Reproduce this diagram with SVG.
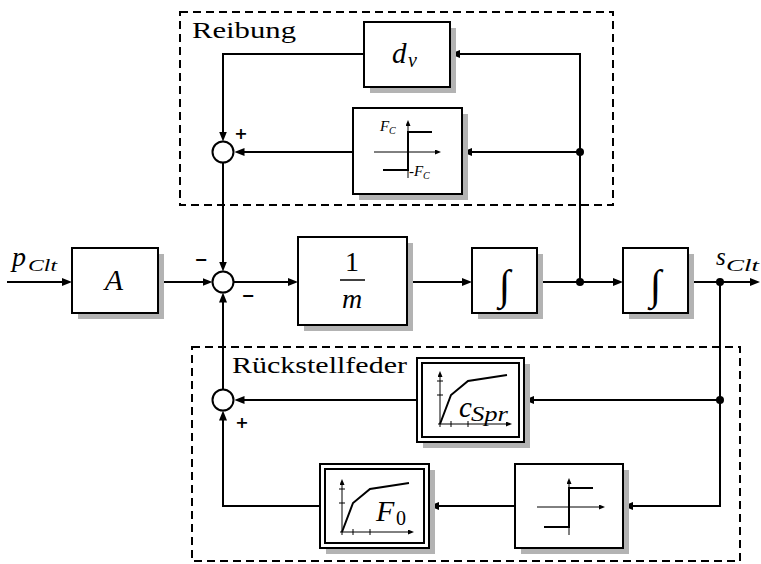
<svg xmlns="http://www.w3.org/2000/svg" xmlns:xlink="http://www.w3.org/1999/xlink" width="761" height="564" viewBox="0 0 761 564">
<style>
.box{fill:#fff;stroke:#000;stroke-width:2}
.sh{fill:#b3b3b3}
.wire{fill:none;stroke:#000;stroke-width:2}
.thin{fill:none;stroke:#000;stroke-width:1}
.thick{fill:none;stroke:#000;stroke-width:2}
.grp{fill:none;stroke:#000;stroke-width:2;stroke-dasharray:8 5}
.mi{font-family:"Liberation Serif","DejaVu Serif",serif;font-style:italic}
.rm{font-family:"Liberation Serif","DejaVu Serif",serif}
.sign{font-family:"DejaVu Sans",sans-serif;font-weight:bold;font-size:16px;text-anchor:middle}
.sum{fill:#fff;stroke:#000;stroke-width:2}
</style>
<defs>
<marker id="arr" markerUnits="userSpaceOnUse" markerWidth="10" markerHeight="8" refX="7" refY="4" orient="auto"><path d="M0,0 L10,4 L0,8 z" fill="#000"/></marker>
<marker id="arrs" markerUnits="userSpaceOnUse" markerWidth="6" markerHeight="5" refX="3" refY="2.5" orient="auto"><path d="M0,0 L6,2.5 L0,5 z" fill="#000"/></marker>
<g id="curveIcon">
<path class="thin" d="M0,3 V-50" marker-end="url(#arrs)"/>
<path class="thin" d="M-2,0 H69" marker-end="url(#arrs)"/>
<path class="thin" d="M11,-3 V3 M28,-3 V3 M-3,-29 H3 M-3,-43 H3"/>
<path class="thick" d="M0,0 L11,-29 L28,-43 L67,-49"/>
</g>
</defs>

<g id="groups">
<rect class="grp" x="180" y="12" width="433" height="193"/>
<text class="rm" x="192" y="38" font-size="24" textLength="104" lengthAdjust="spacingAndGlyphs">Reibung</text>
<rect class="grp" x="192" y="347" width="548" height="214"/>
<text class="rm" x="232" y="373" font-size="24" textLength="175" lengthAdjust="spacingAndGlyphs">Rückstellfeder</text>
</g>

<g id="connectors">
<path class="wire" d="M7,282 H69" marker-end="url(#arr)"/>
<path class="wire" d="M158,282 H209.5" marker-end="url(#arr)"/>
<path class="wire" d="M233.5,282 H295" marker-end="url(#arr)"/>
<path class="wire" d="M407,282 H469" marker-end="url(#arr)"/>
<path class="wire" d="M537,282 H620" marker-end="url(#arr)"/>
<path class="wire" d="M688,282 H757" marker-end="url(#arr)"/>
<path class="wire" d="M580,282 V54 H453" marker-end="url(#arr)"/>
<path class="wire" d="M580,152 H465" marker-end="url(#arr)"/>
<path class="wire" d="M364,54 H223 V138.5" marker-end="url(#arr)"/>
<path class="wire" d="M353,152 H237.5" marker-end="url(#arr)"/>
<path class="wire" d="M223,162.5 V268.5" marker-end="url(#arr)"/>
<path class="wire" d="M720,282 V506 H626" marker-end="url(#arr)"/>
<path class="wire" d="M720,400 H527" marker-end="url(#arr)"/>
<path class="wire" d="M417,400 H237.5" marker-end="url(#arr)"/>
<path class="wire" d="M515,506 H432" marker-end="url(#arr)"/>
<path class="wire" d="M320,506 H223 V413.5" marker-end="url(#arr)"/>
<path class="wire" d="M223,389.5 V295.5" marker-end="url(#arr)"/>
<circle cx="580" cy="282" r="4"/>
<circle cx="580" cy="152" r="4"/>
<circle cx="720" cy="282" r="4"/>
<circle cx="720" cy="400" r="4"/>
<text class="mi" x="12" y="266" font-size="28">p</text>
<text class="mi" x="28" y="271" font-size="17" textLength="29" lengthAdjust="spacingAndGlyphs">Clt</text>
<text class="mi" x="716" y="265" font-size="25">s</text>
<text class="mi" x="726" y="271" font-size="17" textLength="33" lengthAdjust="spacingAndGlyphs">Clt</text>
</g>

<g id="sum_top">
<circle class="sum" cx="223" cy="152" r="10.5"/>
<text class="sign" x="241" y="139">+</text>
</g>
<g id="sum_mid">
<circle class="sum" cx="223" cy="282" r="10.5"/>
<text class="sign" x="201" y="265">−</text>
<text class="sign" x="248" y="301">−</text>
</g>
<g id="sum_bot">
<circle class="sum" cx="223" cy="400" r="10.5"/>
<text class="sign" x="242" y="428">+</text>
</g>

<g id="block_A">
<rect class="sh" x="78" y="254" width="86" height="65"/>
<rect class="box" x="72" y="248" width="86" height="65"/>
<text class="mi" x="114" y="290" font-size="30" text-anchor="middle">A</text>
</g>

<g id="block_1m">
<rect class="sh" x="304" y="243" width="109" height="88"/>
<rect class="box" x="298" y="237" width="109" height="88"/>
<text class="rm" x="352" y="271" font-size="28" text-anchor="middle">1</text>
<line x1="340" y1="280" x2="365" y2="280" stroke="#000" stroke-width="1.5"/>
<text class="mi" x="352" y="308" font-size="28" text-anchor="middle">m</text>
</g>

<g id="block_int1">
<rect class="sh" x="478" y="254" width="65" height="65"/>
<rect class="box" x="472" y="248" width="65" height="65"/>
<text class="rm" x="504.5" y="299" font-size="42" text-anchor="middle">∫</text>
</g>

<g id="block_int2">
<rect class="sh" x="629" y="254" width="65" height="65"/>
<rect class="box" x="623" y="248" width="65" height="65"/>
<text class="rm" x="655.5" y="299" font-size="42" text-anchor="middle">∫</text>
</g>

<g id="block_dv">
<rect class="sh" x="370" y="28" width="86" height="65"/>
<rect class="box" x="364" y="22" width="86" height="65"/>
<text class="mi" x="392" y="63" font-size="29">d</text>
<text class="mi" x="408" y="67" font-size="20">v</text>
</g>

<g id="block_FC">
<rect class="sh" x="359" y="114" width="109" height="86"/>
<rect class="box" x="353" y="108" width="109" height="86"/>
<path class="thin" d="M374,152 H438" marker-end="url(#arrs)"/>
<path class="thin" d="M408,178 V123" marker-end="url(#arrs)"/>
<path class="thick" d="M383,170 H408 V132 H432"/>
<text class="mi" x="380" y="131" font-size="15">F</text>
<text class="mi" x="389" y="134" font-size="10">C</text>
<text class="rm" x="409" y="176" font-size="15">-</text>
<text class="mi" x="414" y="176" font-size="15">F</text>
<text class="mi" x="423" y="179" font-size="10">C</text>
</g>

<g id="block_cSpr">
<rect class="sh" x="423" y="364" width="107" height="84"/>
<rect class="box" x="417" y="358" width="107" height="84" stroke-width="2.5"/>
<rect class="box" x="422" y="363" width="97" height="74"/>
<use xlink:href="#curveIcon" x="440" y="424"/>
<text class="mi" x="459" y="417" font-size="29">c</text>
<text class="mi" x="471" y="421" font-size="20" textLength="37" lengthAdjust="spacingAndGlyphs">Spr</text>
</g>

<g id="block_F0">
<rect class="sh" x="326" y="470" width="109" height="84"/>
<rect class="box" x="320" y="464" width="109" height="84" stroke-width="2.5"/>
<rect class="box" x="325" y="469" width="99" height="74"/>
<use xlink:href="#curveIcon" x="342" y="532"/>
<text class="mi" x="376" y="521" font-size="30">F</text>
<text class="rm" x="396" y="525" font-size="20">0</text>
</g>

<g id="block_switch">
<rect class="sh" x="521" y="470" width="108" height="84"/>
<rect class="box" x="515" y="464" width="108" height="84"/>
<path class="thin" d="M537,507 H602" marker-end="url(#arrs)"/>
<path class="thin" d="M569,535 V481" marker-end="url(#arrs)"/>
<path class="thick" d="M544,527 H569 V488 H593"/>
</g>
</svg>
